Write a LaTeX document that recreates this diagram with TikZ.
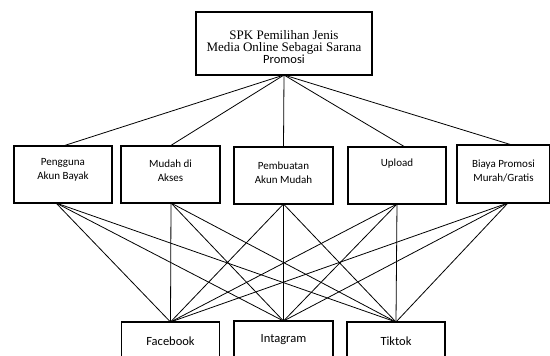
\documentclass[tikz,border=0pt]{standalone}
\usepackage{fontspec}
\setmainfont{Carlito}
\newfontfamily\timesf{Liberation Serif}
\begin{document}
\begin{tikzpicture}[x=1pt,y=-1pt,
  boxst/.style={draw,line width=1.3pt,inner sep=0pt},
  link/.style={line width=0.8pt},
  txt/.style={inner sep=0pt,align=center,font=\fontsize{11}{14}\selectfont},
  bottxt/.style={inner sep=0pt,font=\fontsize{12.5}{15}\selectfont}]
\useasboundingbox (0,0) rectangle (550,356);
\clip (0,0) rectangle (550,356);
% top
\node[boxst,minimum width=176pt,minimum height=63pt] (top) at (284,43.5) {};
\node[inner sep=0pt,align=center] (toptxt) at (284,47) {\timesf\fontsize{13}{15}\selectfont SPK Pemilihan Jenis\\[-0.5pt]\timesf\fontsize{13}{15}\selectfont Media Online Sebagai Sarana\\\fontsize{12.5}{15}\selectfont Promosi};
% middle boxes
\node[boxst,minimum width=98pt,minimum height=57pt] (m1) at (63,174.5) {};
\node[boxst,minimum width=99pt,minimum height=57pt] (m2) at (170.5,174.5) {};
\node[boxst,minimum width=99pt,minimum height=57pt] (m3) at (283.5,175.5) {};
\node[boxst,minimum width=98pt,minimum height=57pt] (m4) at (397,175.5) {};
\node[boxst,minimum width=93pt,minimum height=58pt] (m5) at (503.5,174) {};
\node[txt] (t1) at (63,170) {Pengguna\\Akun Bayak};
\node[txt] (t2) at (170.5,170.5) {Mudah di\\Akses};
\node[txt] (t3) at (283.5,172.5) {Pembuatan\\Akun Mudah};
\node[txt] (t4) at (397,164) {Upload};
\node[txt] (t5) at (503.5,170.5) {Biaya Promosi\\Murah/Gratis};
% bottom boxes
\node[boxst,minimum width=98pt,minimum height=40pt] (f) at (170.5,342) {};
\node[boxst,minimum width=99pt,minimum height=41pt] (i) at (283.5,341.5) {};
\node[boxst,minimum width=98pt,minimum height=40pt] (k) at (396,342) {};
\node[bottxt] (ft) at (170.5,341) {Facebook};
\node[bottxt] (it) at (283.5,340) {Intagram};
\node[bottxt] (kt) at (396,341) {Tiktok};
% connection points
\coordinate (ap) at (284,75);
\coordinate (m1t) at (63,146);
\coordinate (m2t) at (170,146);
\coordinate (m3t) at (283.5,147);
\coordinate (m4t) at (405,147);
\coordinate (m5t) at (512,145);
\coordinate (m1b) at (56,203);
\coordinate (m2b) at (171,203);
\coordinate (m3b) at (283.5,204);
\coordinate (m4b) at (397,204);
\coordinate (m5b) at (508,203);
\coordinate (fb) at (170.5,322);
\coordinate (ib) at (283.5,321);
\coordinate (kb) at (396,322);
\foreach \m in {m1t,m2t,m3t,m4t,m5t} \draw[link] (ap) -- (\m);
\foreach \m in {m1b,m2b,m3b,m4b,m5b}
  \foreach \b in {fb,ib,kb} \draw[link] (\m) -- (\b);
\end{tikzpicture}
\end{document}
